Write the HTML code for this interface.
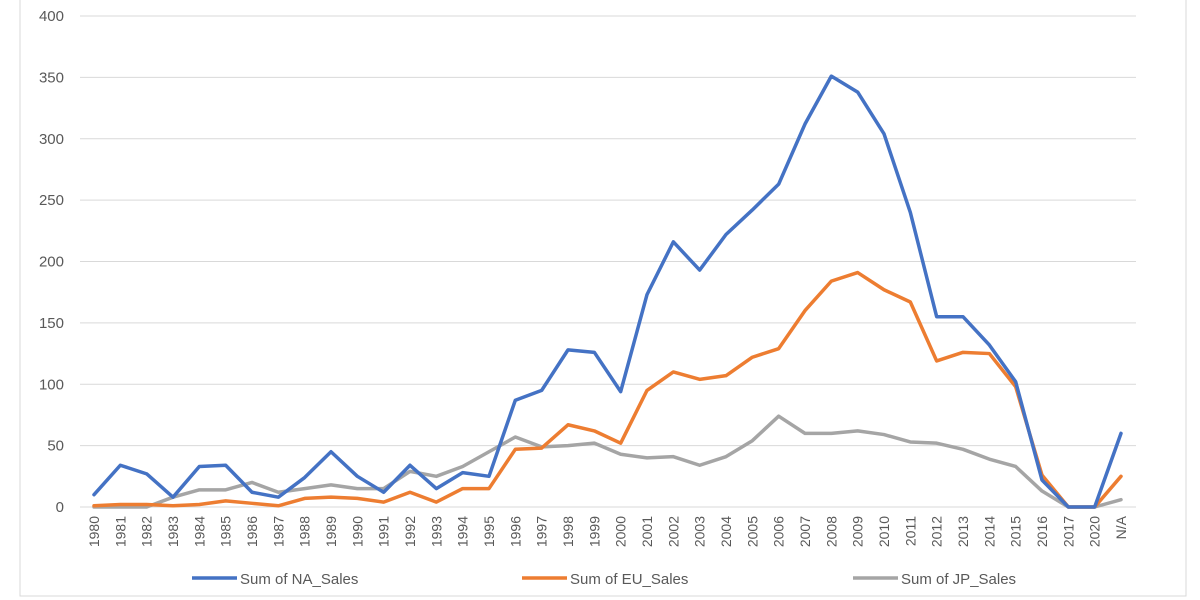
<!DOCTYPE html>
<html><head><meta charset="utf-8"><style>
body{margin:0;background:#fff;}
svg{display:block;font-family:"Liberation Sans",sans-serif;}
</style></head><body>
<svg id="chart" width="1200" height="600">
<rect x="20" y="-2" width="1166" height="598" fill="#fff" stroke="#d9d9d9"/>
<g id="grid"></g><g id="yticks"></g><g id="xticks"></g><g id="lines"></g>
<g>
<line x1="192" y1="578" x2="237" y2="578" stroke="#4472C4" stroke-width="3.5"/>
<text x="240" y="584" font-size="15" fill="#595959">Sum of NA_Sales</text>
<line x1="522" y1="578" x2="567" y2="578" stroke="#ED7D31" stroke-width="3.5"/>
<text x="570" y="584" font-size="15" fill="#595959">Sum of EU_Sales</text>
<line x1="853" y1="578" x2="898" y2="578" stroke="#A5A5A5" stroke-width="3.5"/>
<text x="901" y="584" font-size="15" fill="#595959">Sum of JP_Sales</text>
</g>
</svg>
<script>
const categories=["1980","1981","1982","1983","1984","1985","1986","1987","1988","1989","1990","1991","1992","1993","1994","1995","1996","1997","1998","1999","2000","2001","2002","2003","2004","2005","2006","2007","2008","2009","2010","2011","2012","2013","2014","2015","2016","2017","2020","N/A"];
const naSales=[10,34,27,8,33,34,12,8,24,45,25,12,34,15,28,25,87,95,128,126,94,173,216,193,222,242,263,312,351,338,304,240,155,155,132,102,22,0,0,60];
const euSales=[1,2,2,1,2,5,3,1,7,8,7,4,12,4,15,15,47,48,67,62,52,95,110,104,107,122,129,160,184,191,177,167,119,126,125,98,26,0,0,25];
const jpSales=[0,0,0,8,14,14,20,12,15,18,15,15,29,25,33,45,57,49,50,52,43,40,41,34,41,54,74,60,60,62,59,53,52,47,39,33,13,0,0,6];
const yTicks=[0,50,100,150,200,250,300,350,400];
const NS="http://www.w3.org/2000/svg";
const x0=94,x1=1121,yBase=507,yTop=16,yMax=400;
function xPos(i){return x0+(x1-x0)*i/(categories.length-1);}
function yPos(v){return yBase-(yBase-yTop)*v/yMax;}
function mk(t,a,p){const e=document.createElementNS(NS,t);for(const k in a)e.setAttribute(k,a[k]);p.appendChild(e);return e;}
const grid=document.getElementById('grid'),yt=document.getElementById('yticks'),xt=document.getElementById('xticks'),lines=document.getElementById('lines');
yTicks.forEach(v=>{
 const l=mk('line',{x1:80,x2:1136,y1:yPos(v),y2:yPos(v),stroke:'#d9d9d9','stroke-width':1},grid);
 
 
 const t=mk('text',{x:64,y:yPos(v)+5,'text-anchor':'end','font-size':15,fill:'#595959'},yt);
 t.textContent=v;
 
 
});
categories.forEach((c,i)=>{
 const x=xPos(i),y=516;
 const t=mk('text',{x:x,y:y,'text-anchor':'end','font-size':14,fill:'#595959',transform:`rotate(-90 ${x} ${y}) translate(0 5)`},xt);
 t.textContent=c;
 
 
});
[[jpSales,'#A5A5A5','jp-sales-line'],[euSales,'#ED7D31','eu-sales-line'],[naSales,'#4472C4','na-sales-line']].forEach(([d,col,n])=>{
 const pts=d.map((v,i)=>xPos(i)+','+yPos(v)).join(' ');
 const p=mk('polyline',{points:pts,fill:'none',stroke:col,'stroke-width':3.5,'stroke-linejoin':'round','stroke-linecap':'round'},lines);
 
 
});
</script>
</body></html>
